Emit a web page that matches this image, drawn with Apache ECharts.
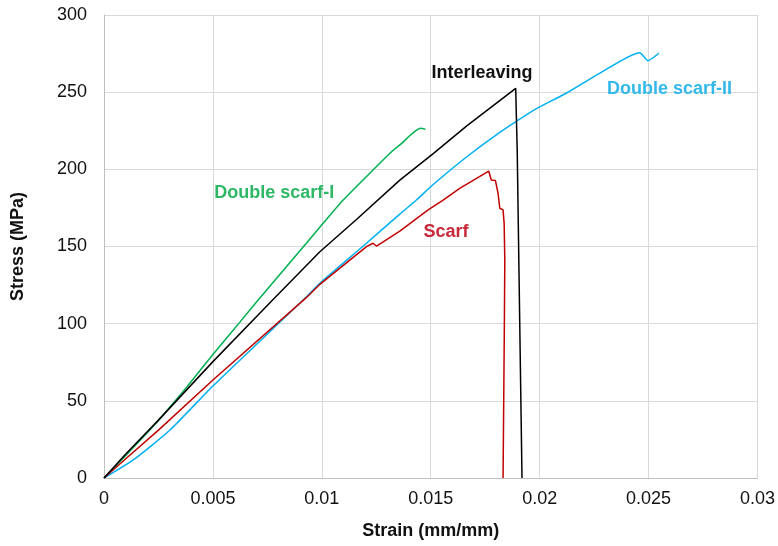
<!DOCTYPE html>
<html>
<head>
<meta charset="utf-8">
<script src="https://cdn.jsdelivr.net/npm/echarts@6/dist/echarts.min.js"></script>
<style>
    html, body { margin: 0; padding: 0; background: #fff; }
    #chart { width: 778px; height: 546px; }
</style>
</head>
<body>
<div id="chart"></div>
<script>
// strain (mm/mm), stress (MPa)
var doubleScarfI = [
    [0, 0], [0.00089, 13], [0.00242, 36], [0.00333, 51], [0.0038, 59],
    [0.005, 80], [0.00624, 101], [0.007, 114], [0.0085, 139], [0.01006, 165],
    [0.01098, 180.1], [0.01235, 199.6], [0.0132, 211.4], [0.01358, 215.8],
    [0.01453, 226.6], [0.01476, 225.9]
];
var interleaving = [
    [0, 0], [0.001, 15.5], [0.0025, 37.5], [0.005, 75.4], [0.00774, 115.3],
    [0.00991, 146.6], [0.01159, 167.5], [0.01358, 193], [0.0151, 210],
    [0.01664, 228], [0.0189, 252.5], [0.01897, 212], [0.01919, 0]
];
var doubleScarfII = [
    [0, 0], [0.00134, 11.7], [0.00303, 31.1], [0.005, 59.6], [0.00914, 115.3],
    [0.00991, 126.2], [0.01205, 152.1], [0.01358, 171], [0.01434, 180.1],
    [0.0151, 190], [0.01664, 208], [0.01817, 224], [0.01946, 236], [0.02, 240.5],
    [0.02122, 249.3], [0.02275, 262.2], [0.02459, 275.6], [0.02497, 270.4],
    [0.02547, 275.2]
];
var scarf = [
    [0, 0], [0.001, 12.5], [0.0025, 31], [0.005, 63.5], [0.0093, 117],
    [0.00991, 125.5], [0.01205, 149.9], [0.01235, 152.1], [0.01251, 150.3],
    [0.01358, 160], [0.01488, 173.7], [0.01557, 180], [0.01633, 187.7],
    [0.01766, 198.9], [0.01778, 193.1], [0.01797, 192.7], [0.01809, 184.5],
    [0.01817, 174.8], [0.01832, 173.7], [0.01837, 165], [0.0184, 141.3],
    [0.01838, 100], [0.01832, 0]
];

// label anchor points in data units
var labels = [
    { name: 'Double scarf-I', coord: [0.00782, 184.7], color: '#2db865' },
    { name: 'Interleaving', coord: [0.01735, 262.2], color: '#111111' },
    { name: 'Double scarf-II', coord: [0.02596, 252], color: '#33b8ec' },
    { name: 'Scarf', coord: [0.0157, 159.4], color: '#c8283a' }
];

var font = 'Arial, "Liberation Sans", sans-serif';

function makeSeries(name, data, color, lbl, smooth) {
    return {
        name: name,
        type: 'line',
        data: data,
        showSymbol: false,
        symbol: 'none',
        smooth: smooth,
        lineStyle: { color: color, width: 1.5 },
        itemStyle: { color: color },
        animation: false,
        markPoint: {
            symbol: 'circle',
            symbolSize: 1,
            itemStyle: { color: 'rgba(0,0,0,0)' },
            label: {
                show: true,
                position: 'inside',
                formatter: '{b}',
                color: lbl.color,
                fontSize: 18,
                fontWeight: 'bold',
                fontFamily: font
            },
            data: [{ name: lbl.name, coord: lbl.coord }]
        }
    };
}

var chart = echarts.init(document.getElementById('chart'));
chart.setOption({
    backgroundColor: '#fff',
    animation: false,
    grid: { left: 104, right: 20, top: 15, bottom: 68 },
    xAxis: {
        type: 'value',
        min: 0,
        max: 0.03,
        interval: 0.005,
        name: 'Strain (mm/mm)',
        nameLocation: 'middle',
        nameGap: 44,
        nameTextStyle: { fontSize: 18, fontWeight: 'bold', color: '#111', fontFamily: font },
        axisLine: { show: true, lineStyle: { color: '#bfbfbf', width: 1 } },
        axisTick: { show: false },
        axisLabel: { fontSize: 18, color: '#111', margin: 12, fontFamily: font },
        splitLine: { show: true, lineStyle: { color: '#d9d9d9', width: 1 } }
    },
    yAxis: {
        type: 'value',
        min: 0,
        max: 300,
        interval: 50,
        name: 'Stress (MPa)',
        nameLocation: 'middle',
        nameGap: 77,
        nameTextStyle: { fontSize: 18, fontWeight: 'bold', color: '#111', fontFamily: font },
        axisLine: { show: true, lineStyle: { color: '#bfbfbf', width: 1 } },
        axisTick: { show: false },
        axisLabel: { fontSize: 18, color: '#111', margin: 17, fontFamily: font },
        splitLine: { show: true, lineStyle: { color: '#d9d9d9', width: 1 } }
    },
    series: [
        makeSeries('Double scarf-I', doubleScarfI, '#00b050', labels[0], 0.2),
        makeSeries('Double scarf-II', doubleScarfII, '#00b0f0', labels[2], 0.2),
        makeSeries('Scarf', scarf, '#c00000', labels[3], false),
        makeSeries('Interleaving', interleaving, '#000000', labels[1], false)
    ]
});

window.addEventListener('resize', function () {
    chart.resize();
});
</script>
</body>
</html>
